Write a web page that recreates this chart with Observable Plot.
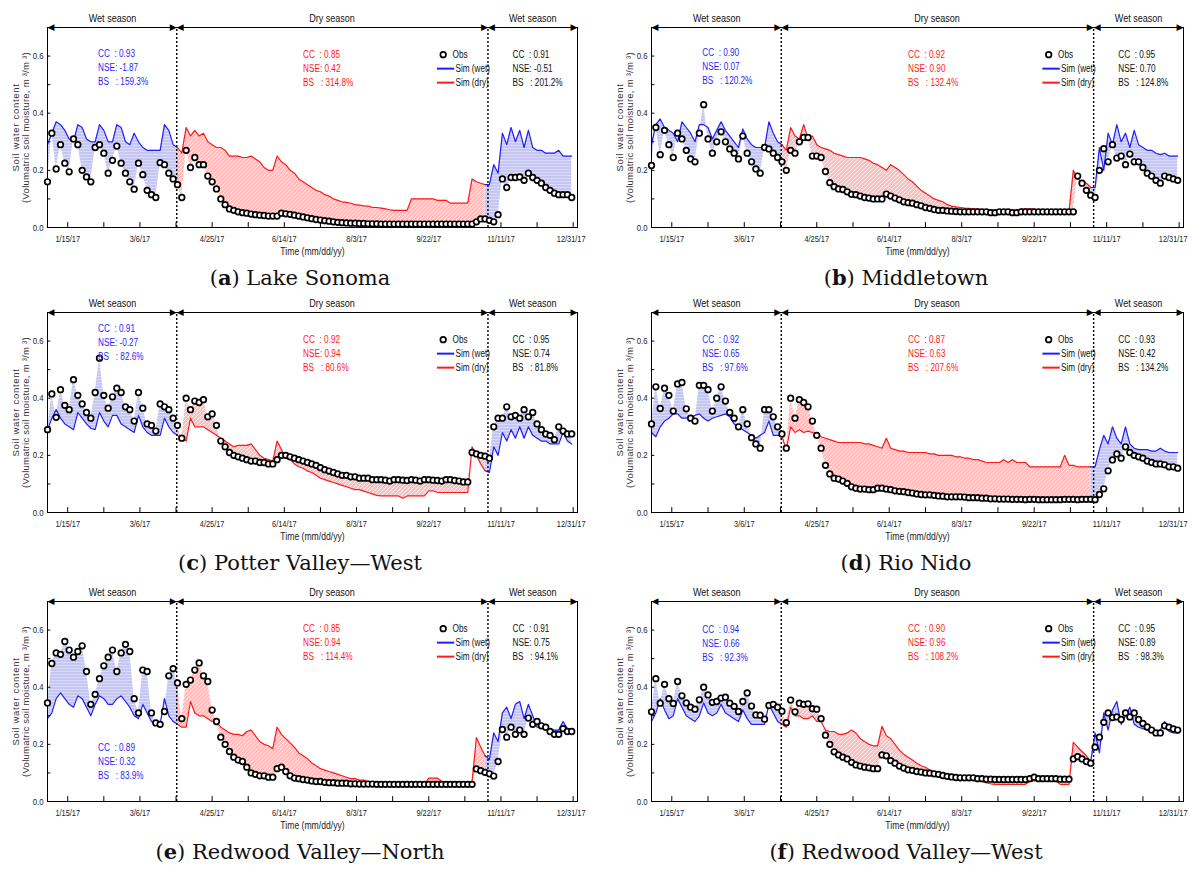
<!DOCTYPE html>
<html><head><meta charset="utf-8">
<script src="https://cdn.jsdelivr.net/npm/d3@7"></script>
<script src="https://cdn.jsdelivr.net/npm/@observablehq/plot@0.6"></script>
<style>
body{margin:0;background:#fff;}
#wrap{position:relative;width:1193px;height:872px;overflow:hidden;background:#fff;}
.panel{position:absolute;}
.cap{position:absolute;text-align:center;font-family:"DejaVu Serif",serif;font-size:21px;line-height:26px;color:#111;white-space:nowrap;}
svg text{white-space:pre;}
</style></head><body>
<svg width="0" height="0" style="position:absolute"><defs>
<pattern id="hatchBlue" width="3" height="3" patternUnits="userSpaceOnUse"><rect width="3" height="3" fill="#c6c6f2"/><path d="M0,1.5H3" stroke="#e2e2fa" stroke-width="0.7"/></pattern>
<pattern id="hatchRed" width="4" height="4" patternUnits="userSpaceOnUse"><rect width="4" height="4" fill="#ffbdbd"/><path d="M0,4L4,0M-1,1L1,-1M3,5L5,3" stroke="#fff2f2" stroke-width="1"/></pattern>
</defs></svg>
<div id="wrap"></div>
<script>
// day of year (Jan 1 = 0) of each observation / simulation sample
const days = [0,3,6,9,12,15,18,21,24,27,30,33,36,39,42,45,48,51,54,57,60,63,66,69,72,75,78,81,84,87,90,93,96,99,102,105,108,111,114,117,120,123,126,129,132,135,138,141,144,147,150,153,156,159,162,165,168,171,174,177,180,183,186,189,192,195,198,201,204,207,210,213,216,219,222,225,228,231,234,237,240,243,246,249,252,255,258,261,264,267,270,273,276,279,282,285,288,291,294,297,300,303,306,309,312,315,318,321,324,327,330,333,336,339,342,345,348,351,354,357,360,363];
const seasonBounds = [89.5, 305];
const seasonLabels = ["Wet season", "Dry season", "Wet season"];
const seasonMid = [45, 197, 336];
const tickDays = [14, 64, 114, 164, 214, 264, 314, 364];
const tickLabels = ["1/15/17","3/6/17","4/25/17","6/14/17","8/3/17","9/22/17","11/11/17","12/31/17"];
const minorDays = [39, 89, 139, 189, 239, 289, 339];
const yTickVals = [0.1, 0.2, 0.3, 0.4, 0.5, 0.6];
const yLabels = ["0.0", "0.2", "0.4", "0.6"];

// (a) Lake Sonoma
const obsA = [.16,.33,.205,.29,.225,.195,.31,.29,.20,.177,.16,.28,.29,.26,.19,.235,.285,.225,.19,.16,.134,.225,.185,.13,.115,.105,.227,.22,.19,.17,
.15,.105,.27,.21,.245,.22,.22,.18,.16,.135,.10,.08,.065,.06,.055,.052,.05,.047,.045,.043,.042,.04,.04,.04,.05,.048,.046,.043,.04,.037,
.034,.031,.028,.026,.024,.022,.02,.018,.017,.016,.015,.015,.014,.014,.013,.013,.013,.012,.012,.012,.012,.012,.012,.012,.012,.012,.012,.012,.012,.012,
.012,.012,.012,.012,.012,.012,.012,.012,.012,.02,.03,.03,
.025,.02,.045,.17,.14,.175,.175,.177,.165,.19,.175,.165,.155,.14,.13,.12,.115,.115,.115,.105];
const simA = [.29,.33,.37,.36,.34,.31,.30,.36,.35,.31,.30,.30,.36,.34,.30,.30,.36,.35,.30,.29,.33,.30,.28,.27,.27,.27,.27,.36,.34,.29,
.28,.26,.35,.32,.34,.32,.33,.30,.29,.28,.28,.27,.25,.25,.25,.245,.245,.25,.24,.23,.21,.20,.20,.25,.23,.22,.20,.19,.17,.16,
.15,.14,.13,.125,.115,.11,.10,.095,.09,.088,.085,.08,.078,.076,.075,.07,.07,.068,.065,.062,.06,.06,.06,.06,.10,.10,.10,.10,.10,.10,
.095,.095,.095,.085,.085,.085,.085,.085,.17,.16,.155,.15,
.15,.22,.19,.33,.29,.35,.30,.34,.28,.34,.28,.27,.27,.26,.26,.26,.27,.25,.25,.25];
const ccA = [0.93, 0.85, 0.91], nseA = [-1.87, 0.42, -0.51], bsA = [159.3, 314.8, 201.2];

// (b) Middletown
const obsB = [.217,.35,.255,.34,.29,.245,.33,.31,.27,.24,.23,.33,.43,.31,.26,.30,.335,.30,.275,.26,.24,.32,.26,.23,.205,.19,.28,.275,.26,.245,
.23,.20,.27,.26,.30,.315,.315,.25,.25,.245,.196,.157,.143,.135,.133,.125,.116,.115,.11,.105,.103,.10,.10,.10,.117,.11,.103,.097,.09,.087,
.085,.08,.076,.07,.067,.063,.06,.06,.058,.057,.056,.055,.055,.055,.055,.055,.055,.055,.052,.052,.055,.055,.055,.052,.052,.055,.055,.055,.055,.055,
.055,.055,.055,.055,.055,.055,.055,.055,.18,.155,.13,.113,
.105,.20,.276,.23,.29,.243,.25,.22,.257,.23,.23,.21,.19,.18,.165,.155,.18,.175,.17,.165];
const simB = [.29,.36,.38,.35,.34,.33,.30,.37,.35,.33,.30,.36,.36,.35,.31,.34,.37,.34,.32,.30,.28,.345,.31,.29,.28,.28,.28,.37,.33,.30,
.29,.27,.35,.32,.31,.36,.31,.32,.29,.28,.275,.27,.26,.255,.25,.245,.245,.245,.245,.24,.235,.225,.22,.21,.20,.22,.21,.20,.185,.17,
.16,.145,.13,.12,.11,.10,.095,.09,.08,.075,.072,.07,.068,.067,.065,.065,.063,.06,.06,.058,.058,.057,.057,.056,.056,.065,.065,.065,.065,.055,
.055,.055,.055,.055,.055,.055,.055,.20,.17,.16,.155,.14,
.14,.28,.20,.33,.29,.36,.30,.33,.28,.34,.29,.28,.27,.27,.26,.255,.26,.25,.25,.25];
const ccB = [0.90, 0.92, 0.95], nseB = [0.07, 0.90, 0.70], bsB = [120.2, 132.4, 124.8];

// (c) Potter Valley-West
const obsC = [.29,.415,.333,.43,.375,.36,.465,.41,.38,.35,.33,.42,.54,.41,.365,.405,.435,.42,.37,.36,.32,.42,.365,.31,.305,.285,.38,.37,.36,.33,
.305,.26,.40,.36,.39,.385,.395,.335,.345,.305,.25,.23,.21,.20,.195,.19,.185,.18,.18,.175,.175,.17,.17,.185,.20,.20,.195,.19,.185,.18,
.175,.17,.165,.157,.15,.145,.14,.135,.13,.13,.125,.125,.12,.12,.12,.115,.115,.115,.113,.11,.115,.115,.113,.112,.115,.113,.11,.115,.115,.113,
.112,.11,.115,.115,.112,.11,.107,.107,.21,.205,.20,.197,
.19,.30,.33,.33,.37,.335,.34,.33,.36,.335,.35,.31,.29,.275,.27,.255,.30,.285,.275,.275];
const simC = [.29,.33,.36,.33,.31,.30,.29,.35,.33,.31,.295,.29,.35,.32,.30,.34,.34,.31,.30,.29,.28,.34,.30,.28,.27,.27,.27,.33,.30,.28,
.27,.26,.25,.33,.30,.30,.30,.29,.28,.27,.26,.25,.24,.23,.235,.235,.235,.24,.22,.20,.19,.185,.18,.25,.22,.19,.185,.17,.16,.155,
.145,.14,.13,.12,.115,.11,.105,.10,.095,.09,.085,.08,.08,.075,.07,.065,.06,.058,.058,.058,.058,.058,.05,.058,.058,.058,.058,.058,.076,.076,
.07,.07,.07,.07,.07,.07,.07,.07,.23,.20,.17,.146,
.14,.23,.20,.28,.25,.29,.26,.30,.26,.30,.27,.26,.25,.25,.24,.24,.24,.28,.25,.24];
const ccC = [0.91, 0.92, 0.95], nseC = [-0.27, 0.94, 0.74], bsC = [82.6, 80.6, 81.8];

// (d) Rio Nido
const obsD = [.31,.44,.364,.435,.41,.355,.45,.455,.363,.33,.32,.445,.445,.43,.355,.40,.44,.39,.35,.33,.30,.36,.31,.262,.24,.225,.36,.36,.335,.30,
.275,.225,.40,.33,.395,.385,.37,.32,.27,.225,.165,.135,.12,.117,.11,.102,.09,.085,.082,.082,.08,.08,.085,.085,.082,.08,.076,.074,.073,.07,
.068,.065,.063,.062,.062,.06,.058,.057,.055,.055,.055,.055,.054,.052,.052,.052,.05,.05,.048,.048,.047,.047,.047,.046,.046,.046,.045,.046,.046,.045,
.045,.045,.045,.045,.045,.046,.046,.046,.045,.046,.046,.046,
.045,.063,.083,.146,.184,.205,.19,.23,.21,.20,.195,.19,.18,.175,.17,.17,.167,.16,.16,.155];
const simD = [.28,.265,.30,.32,.33,.345,.345,.33,.33,.33,.34,.345,.33,.32,.33,.335,.34,.345,.335,.31,.30,.29,.28,.27,.26,.27,.28,.32,.27,.27,
.265,.22,.30,.28,.29,.28,.285,.28,.275,.265,.26,.255,.25,.245,.245,.245,.245,.245,.245,.24,.24,.235,.23,.225,.26,.225,.22,.215,.215,.21,
.21,.21,.21,.21,.205,.205,.20,.20,.20,.20,.195,.195,.19,.19,.185,.185,.18,.175,.175,.175,.175,.185,.175,.185,.175,.175,.175,.16,.16,.16,
.16,.16,.16,.16,.16,.20,.165,.165,.16,.16,.16,.16,
.16,.22,.27,.24,.30,.26,.24,.30,.24,.225,.22,.22,.22,.215,.215,.225,.215,.21,.21,.21];
const ccD = [0.92, 0.87, 0.93], nseD = [0.65, 0.63, 0.42], bsD = [97.6, 207.6, 134.2];

// (e) Redwood Valley-North
const obsE = [.345,.483,.52,.515,.56,.53,.505,.525,.545,.455,.34,.375,.43,.475,.505,.53,.455,.52,.55,.525,.36,.31,.46,.455,.31,.275,.27,.315,.44,.465,
.415,.29,.41,.425,.46,.485,.44,.42,.32,.28,.225,.20,.175,.155,.145,.14,.12,.10,.095,.09,.09,.085,.085,.115,.12,.105,.09,.082,.08,.077,
.075,.072,.07,.07,.067,.066,.066,.064,.064,.064,.062,.062,.061,.061,.061,.061,.06,.06,.06,.06,.06,.06,.06,.06,.06,.06,.06,.06,.06,.06,
.06,.06,.06,.06,.06,.06,.06,.06,.06,.114,.108,.102,
.097,.089,.14,.252,.225,.26,.235,.25,.235,.292,.27,.28,.265,.26,.245,.235,.235,.255,.245,.245];
const simE = [.29,.31,.36,.38,.36,.34,.33,.37,.36,.33,.30,.34,.37,.36,.34,.34,.36,.37,.35,.33,.30,.29,.34,.31,.28,.27,.27,.36,.30,.28,
.27,.26,.26,.35,.31,.30,.30,.29,.28,.28,.26,.25,.24,.235,.235,.23,.245,.25,.23,.21,.20,.195,.185,.26,.235,.22,.205,.19,.17,.16,
.15,.135,.125,.115,.11,.105,.10,.095,.09,.085,.08,.08,.075,.075,.07,.07,.068,.065,.062,.06,.06,.06,.06,.06,.06,.06,.06,.06,.082,.082,
.082,.07,.07,.07,.07,.07,.07,.07,.07,.224,.19,.16,
.147,.24,.21,.31,.33,.29,.34,.35,.29,.34,.30,.26,.26,.255,.25,.25,.25,.28,.255,.255];
const ccE = [0.89, 0.85, 0.91], nseE = [0.32, 0.94, 0.75], bsE = [83.9, 114.4, 94.1];

// (f) Redwood Valley-West
const obsF = [.314,.43,.344,.41,.36,.343,.42,.37,.345,.33,.323,.356,.40,.373,.347,.35,.362,.365,.344,.333,.315,.35,.38,.334,.303,.302,.288,.336,.34,.33,
.316,.276,.355,.314,.344,.34,.342,.325,.323,.29,.232,.20,.174,.163,.155,.149,.137,.128,.124,.12,.118,.115,.115,.163,.16,.143,.134,.124,.117,.111,
.109,.105,.103,.10,.099,.097,.095,.091,.088,.086,.084,.083,.083,.083,.083,.08,.08,.078,.078,.077,.077,.077,.077,.077,.077,.077,.077,.08,.085,.08,
.08,.08,.08,.08,.078,.078,.078,.149,.157,.149,.14,.134,
.19,.225,.277,.31,.294,.296,.287,.31,.296,.31,.287,.273,.261,.25,.24,.24,.265,.26,.254,.25];
const simF = [.28,.31,.36,.32,.29,.30,.36,.33,.30,.29,.28,.30,.345,.31,.30,.31,.34,.31,.30,.29,.28,.32,.29,.27,.27,.27,.27,.34,.31,.28,
.27,.26,.33,.30,.30,.29,.29,.30,.28,.28,.25,.245,.245,.235,.235,.24,.25,.24,.22,.21,.20,.195,.195,.263,.23,.22,.20,.18,.165,.155,
.145,.134,.125,.12,.11,.105,.10,.10,.095,.09,.085,.08,.08,.076,.076,.074,.07,.065,.062,.06,.06,.06,.06,.06,.06,.06,.06,.07,.072,.072,
.072,.072,.072,.072,.06,.06,.06,.207,.19,.175,.16,.14,
.24,.17,.31,.25,.32,.35,.27,.30,.33,.27,.26,.255,.25,.25,.245,.25,.28,.245,.24,.24];
const ccF = [0.94, 0.90, 0.95], nseF = [0.66, 0.96, 0.89], bsF = [92.3, 108.2, 98.3];

const captionLetters = ["a","b","c","d","e","f"];
const captionNames = ["Lake Sonoma","Middletown","Potter Valley\u2014West","Rio Nido","Redwood Valley\u2014North","Redwood Valley\u2014West"];
// vertical position (top line) of the wet-season statistics box in each panel
const wetStatTop = [0.608, 0.61, 0.644, 0.605, 0.188, 0.60];

const FONT = '"Liberation Sans",Arial,sans-serif';
const BLUE = "#1f1fff", RED = "#ff1a1a";
const NARROW = 0.82;

const panels = [
  {obs: obsA, sim: simA, cc: ccA, nse: nseA, bs: bsA},
  {obs: obsB, sim: simB, cc: ccB, nse: nseB, bs: bsB},
  {obs: obsC, sim: simC, cc: ccC, nse: nseC, bs: bsC},
  {obs: obsD, sim: simD, cc: ccD, nse: nseD, bs: bsD},
  {obs: obsE, sim: simE, cc: ccE, nse: nseE, bs: bsE},
  {obs: obsF, sim: simF, cc: ccF, nse: nseF, bs: bsF}
];
panels.forEach((p, k) => {
  if (p.obs.length !== days.length) throw new Error("obs length " + k + " = " + p.obs.length);
  if (p.sim.length !== days.length) throw new Error("sim length " + k + " = " + p.sim.length);
});

const rowTops = [0, 285, 574];
const wrap = document.getElementById("wrap");

function statLines(p, j, x, top) {
  return [
    {x, y: top, t: "CC  : " + p.cc[j].toFixed(2)},
    {x, y: top - 0.049, t: "NSE: " + p.nse[j].toFixed(2)},
    {x, y: top - 0.098, t: "BS   : " + p.bs[j].toFixed(1) + "%"}
  ];
}

panels.forEach((p, k) => {
  const col = k % 2, row = Math.floor(k / 2);
  const rows = days.map((d, i) => ({day: d, obs: p.obs[i], sim: p.sim[i]}));
  const wet1 = rows.slice(0, 31), dry = rows.slice(30, 102), wet2 = rows.slice(101);
  const ml = col === 0 ? 47 : 54, mr = col === 0 ? 19 : 10;
  const arrows = [
    {x: 0, t: "\u25C0", dx: 3.5}, {x: seasonBounds[0], t: "\u25B6", dx: -3.5},
    {x: seasonBounds[0], t: "\u25C0", dx: 3.5}, {x: seasonBounds[1], t: "\u25B6", dx: -3.5},
    {x: seasonBounds[1], t: "\u25C0", dx: 3.5}, {x: 367, t: "\u25B6", dx: -3.5}
  ];
  const nT = tickLabels.length;
  const svg = Plot.plot({
    width: 596, height: 266,
    marginLeft: ml, marginRight: mr, marginTop: 27, marginBottom: 39,
    x: {domain: [0, 367], axis: null},
    y: {domain: [0, 0.7], axis: null},
    style: {fontFamily: FONT, fontSize: "9px", color: "#111", background: "transparent", overflow: "visible"},
    marks: [
      Plot.areaY(wet1, {x: "day", y1: "obs", y2: "sim", fill: "url(#hatchBlue)"}),
      Plot.areaY(dry, {x: "day", y1: "obs", y2: "sim", fill: "url(#hatchRed)"}),
      Plot.areaY(wet2, {x: "day", y1: "obs", y2: "sim", fill: "url(#hatchBlue)"}),
      Plot.line(wet1, {x: "day", y: "sim", stroke: BLUE, strokeWidth: 1.2}),
      Plot.line(dry, {x: "day", y: "sim", stroke: RED, strokeWidth: 1.2}),
      Plot.line(wet2, {x: "day", y: "sim", stroke: BLUE, strokeWidth: 1.2}),
      Plot.ruleX(seasonBounds, {x: d => d, y1: 0, y2: 0.7, stroke: "#000", strokeWidth: 1.4, strokeDasharray: "2,2"}),
      Plot.frame({stroke: "#000", strokeWidth: 1}),
      Plot.ruleX(tickDays.concat(minorDays), {x: d => d, y1: 0, y2: 0.017, stroke: "#000"}),
      Plot.ruleY(yTickVals, {y: d => d, x1: 0, x2: 2.3, stroke: "#000"}),
      Plot.dot(rows, {x: "day", y: "obs", r: 2.8, stroke: "#000", strokeWidth: 1.7, fill: "#fff"}),
      Plot.text(tickLabels.slice(0, nT - 1), {x: (d, i) => tickDays[i], y: 0, text: d => d, dy: 12, fill: "#222", fontSize: 9}),
      Plot.text(tickLabels.slice(nT - 1), {x: tickDays[nT - 1], y: 0, text: d => d, dy: 12, dx: col === 0 ? -2 : -6, fill: "#222", fontSize: 9}),
      Plot.text(yLabels, {x: 0, y: d => +d, text: d => d, textAnchor: "end", dx: -4, fill: "#222", fontSize: 9.5}),
      Plot.text(["Time (mm/dd/yy)"], {frameAnchor: "bottom", dy: 27, fontSize: 10.5, fill: "#222"}),
      Plot.text(["Soil water content"], {frameAnchor: "left", textAnchor: "middle", rotate: -90, dx: -32, fontSize: 9.5, fill: "#333", className: "ytitle"}),
      Plot.text(["(Volumatric soil moisture, m \u00B3/m \u00B3)"], {frameAnchor: "left", textAnchor: "middle", rotate: -90, dx: -22, fontSize: 9.5, fill: "#333", className: "ytitle2"}),
      Plot.text(seasonLabels, {x: (d, i) => seasonMid[i], y: 0.7, text: d => d, dy: -9, fontSize: 11, fill: "#111"}),
      Plot.text(arrows, {x: "x", y: 0.7, text: "t", dx: 0, fontSize: 9, fontFamily: "DejaVu Sans", fill: "#000", className: "arrowhead"}),
      Plot.dot([0], {x: 274, y: 0.605, r: 2.8, stroke: "#000", strokeWidth: 1.7, fill: "#fff"}),
      Plot.text(["Obs"], {x: 280.5, y: 0.605, text: d => d, textAnchor: "start", fontSize: 10, fill: "#111"}),
      Plot.ruleY([0.556], {y: d => d, x1: 270, x2: 282, stroke: BLUE, strokeWidth: 2}),
      Plot.ruleY([0.507], {y: d => d, x1: 270, x2: 282, stroke: RED, strokeWidth: 2}),
      Plot.text(["Sim (wet)"], {x: 282.5, y: 0.556, text: d => d, textAnchor: "start", fontSize: 10, fill: "#111"}),
      Plot.text(["Sim (dry)"], {x: 282.5, y: 0.507, text: d => d, textAnchor: "start", fontSize: 10, fill: "#111"}),
      Plot.text(statLines(p, 0, 35, wetStatTop[k]), {x: "x", y: "y", text: "t", textAnchor: "start", fontSize: 10, fill: BLUE}),
      Plot.text(statLines(p, 1, 177, 0.605), {x: "x", y: "y", text: "t", textAnchor: "start", fontSize: 10, fill: RED}),
      Plot.text(statLines(p, 2, 322, 0.605), {x: "x", y: "y", text: "t", textAnchor: "start", fontSize: 10, fill: "#111"})
    ]
  });
  const div = document.createElement("div");
  div.className = "panel";
  div.style.left = (col === 0 ? 0 : 597) + "px";
  div.style.top = rowTops[row] + "px";
  div.appendChild(svg);
  wrap.appendChild(div);
  // arrowheads: tip of each triangle touches its boundary
  d3.select(svg).selectAll(".arrowhead text").each(function(d, i) {
    const shift = arrows[i] ? arrows[i].dx : 0;
    const tr = this.getAttribute("transform") || "";
    this.setAttribute("transform", tr + " translate(" + shift + ",0)");
  });
  // emulate the narrow sans face of the original figure
  d3.select(svg).selectAll("text").each(function() {
    const cls = (this.parentNode.getAttribute("class") || "");
    if (cls.includes("arrowhead")) return;
    if (cls.includes("ytitle2")) { this.style.letterSpacing = "0.25px"; return; }
    if (cls.includes("ytitle")) { this.style.letterSpacing = "0.7px"; return; }
    const L = this.getComputedTextLength() * NARROW;
    this.setAttribute("textLength", L);
    this.setAttribute("lengthAdjust", "spacingAndGlyphs");
  });
  const cap = document.createElement("div");
  cap.className = "cap";
  cap.style.left = (col === 0 ? 0 : 612) + "px";
  cap.style.width = (col === 0 ? 600 : 588) + "px";
  cap.style.top = (rowTops[row] + 265) + "px";
  cap.innerHTML = "(<b>" + captionLetters[k] + "</b>) " + captionNames[k];
  wrap.appendChild(cap);
});
</script>
</body></html>
